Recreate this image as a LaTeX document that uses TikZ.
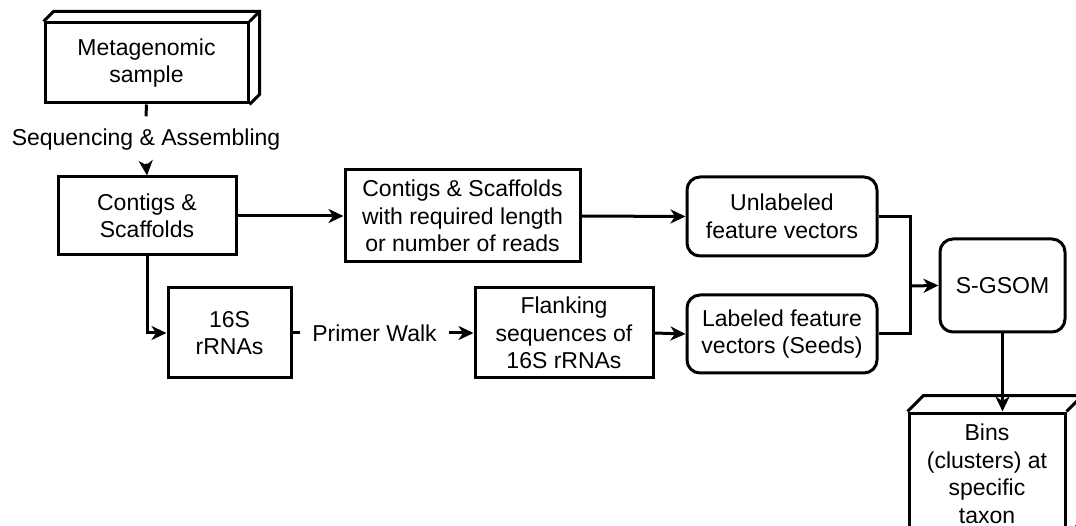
\documentclass[tikz,border=0pt]{standalone}
\usepackage{fontspec}
\setmainfont{Liberation Sans}
\usetikzlibrary{arrows.meta}
\begin{document}
\begin{tikzpicture}[x=1pt,y=-1pt,line width=3pt,
  every node/.style={font=\fontsize{23}{27.5}\selectfont, align=center},
  box/.style={draw, inner sep=2pt, line width=3pt},
  rbox/.style={box, rounded corners=13pt},
  arr/.style={-{Stealth[length=15pt,width=14pt,inset=4.5pt]}},
  lbl/.style={inner xsep=11pt, inner ysep=11.5pt}]
\useasboundingbox (0,0) rectangle (1076,526);
\clip (0,0) rectangle (1076,526);
% nodes
\node[box, minimum width=203pt, minimum height=80pt] (meta) at (146.5,63) {Metagenomic\\sample};
\node[lbl] (seq) at (146,140) {Sequencing \& Assembling};
\node[box, minimum width=178pt, minimum height=78pt] (contigs) at (147,216) {Contigs \&\\Scaffolds};
\node[box, minimum width=235pt, minimum height=92pt] (filt) at (462.5,216) {Contigs \& Scaffolds\\with required length\\or number of reads};
\node[box, minimum width=123pt, minimum height=90pt] (rrna) at (229.5,333) {16S\\rRNAs};
\node[lbl] (pw) at (374.5,333) {Primer Walk};
\node[box, minimum width=178pt, minimum height=90pt] (flank) at (564,333) {Flanking\\sequences of\\16S rRNAs};
\node[rbox, minimum width=190pt, minimum height=79pt] (unl) at (782,216.5) {Unlabeled\\feature vectors};
\node[rbox, minimum width=190pt, minimum height=78pt] (lab) at (782,334) {Labeled feature\\vectors (Seeds)};
\node[rbox, minimum width=125pt, minimum height=93pt] (sgsom) at (1002.5,285.5) {S-GSOM};
\node[box, minimum width=156pt, minimum height=122pt] (bins) at (987,474) {Bins\\(clusters) at\\specific\\taxon};
\coordinate (jx) at (910,286);
% 3D depth
\draw[line join=miter] (meta.north west) -- ([shift={(10,-10)}]meta.north west) -- ([shift={(10,-10)}]meta.north east) -- ([shift={(10,-10)}]meta.south east) -- (meta.south east);
\draw (meta.north east) -- ([shift={(10,-10)}]meta.north east);
\draw[line join=miter] (bins.north west) -- ([shift={(16,-16)}]bins.north west) -- ([shift={(16,-16)}]bins.north east) -- ([shift={(16,-16)}]bins.south east) -- (bins.south east);
\draw (bins.north east) -- ([shift={(16,-16)}]bins.north east);
% connectors
\draw (meta.south) -- (seq.north);
\draw[arr] (seq.south) -- (contigs.north);
\draw[arr] (contigs.east) -- (filt.west);
\draw[arr] (contigs.south) |- (rrna.west);
\draw (rrna.east) -- (pw.west);
\draw[arr] (pw.east) -- (flank.west);
\draw[arr] (filt.east) -- (unl.west);
\draw[arr] (flank.east) -- (lab.west);
\draw (unl.east) -| (jx);
\draw (lab.east) -| (jx);
\draw[arr] (jx) -- (sgsom.west);
\draw[arr] (sgsom.south) -- (sgsom.south |- bins.north);
\end{tikzpicture}
\end{document}
